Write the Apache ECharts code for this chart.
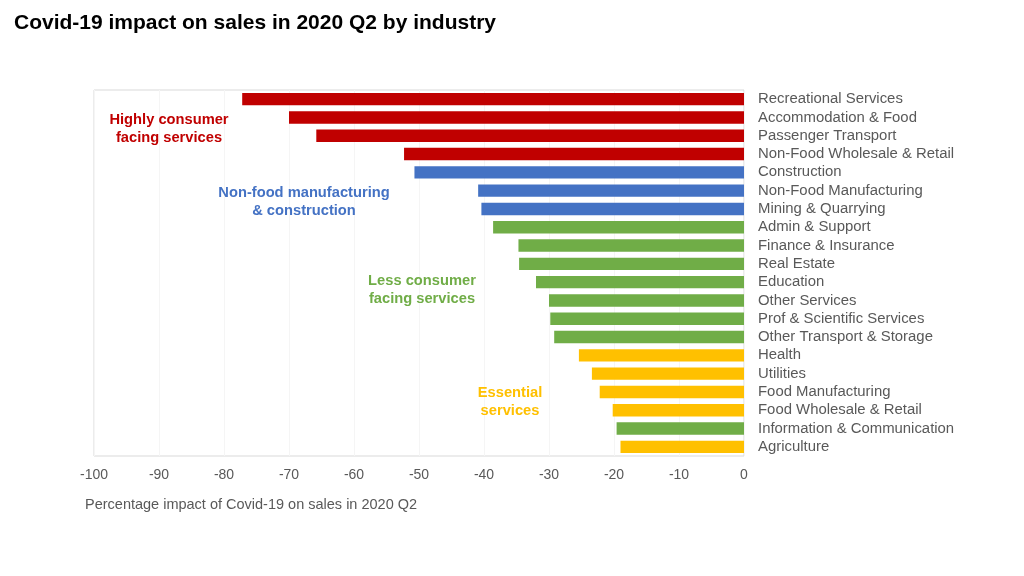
<!DOCTYPE html>
<html>
<head>
<meta charset="utf-8">
<title>Covid-19 impact on sales in 2020 Q2 by industry</title>
<script src="https://cdn.jsdelivr.net/npm/echarts@6/dist/echarts.min.js"></script>
<style>
  html, body { margin: 0; padding: 0; background: #fff; }
  #chart { width: 1024px; height: 576px; }
</style>
</head>
<body>
<div id="chart"></div>
<script>
// categories, top to bottom
const industries = [
  'Recreational Services', 'Accommodation & Food', 'Passenger Transport',
  'Non-Food Wholesale & Retail', 'Construction', 'Non-Food Manufacturing',
  'Mining & Quarrying', 'Admin & Support', 'Finance & Insurance', 'Real Estate',
  'Education', 'Other Services', 'Prof & Scientific Services',
  'Other Transport & Storage', 'Health', 'Utilities', 'Food Manufacturing',
  'Food Wholesale & Retail', 'Information & Communication', 'Agriculture'
]
// % impact on sales
const impact = [
  -77.2, -70.0, -65.8, -52.3, -50.7, -40.9, -40.4, -38.6, -34.7, -34.6,
  -32.0, -30.0, -29.8, -29.2, -25.4, -23.4, -22.2, -20.2, -19.6, -19.0
]
// group of each industry
const groups = [
  'high', 'high', 'high', 'high', 'mfg', 'mfg', 'mfg', 'less', 'less', 'less',
  'less', 'less', 'less', 'less', 'ess', 'ess', 'ess', 'ess', 'less', 'ess'
]
const groupColors = { high: '#C00000', mfg: '#4472C4', less: '#70AD47', ess: '#FFC000' }

const xTicks = { min: -100, max: 0, step: 10 }

const chart = echarts.init(document.getElementById('chart'))

const font = 'Liberation Sans, Arial, sans-serif'

// group labels drawn inside the plot area (x = centre of the text block)
function note (text, x, y, color) {
  return {
    type: 'text',
    x: x,
    y: y,
    z: 100,
    style: {
      text: text,
      fill: color,
      font: 'bold 14.7px ' + font,
      align: 'center',
      verticalAlign: 'top',
      lineHeight: 18
    }
  }
}

const option = {
  animation: false,
  textStyle: { fontFamily: font },
  title: {
    text: 'Covid-19 impact on sales in 2020 Q2 by industry',
    left: 14,
    top: 13,
    padding: 0,
    textStyle: { fontSize: 21, fontWeight: 'bold', color: '#000', fontFamily: font }
  },
  grid: {
    left: 94,
    right: 280,
    top: 90,
    bottom: 120,
    show: true,
    borderColor: '#d9d9d9',
    borderWidth: 1
  },
  xAxis: {
    type: 'value',
    min: xTicks.min,
    max: xTicks.max,
    interval: xTicks.step,
    axisLine: { show: false },
    axisTick: { show: false },
    axisLabel: { color: '#595959', fontSize: 14, margin: 12 },
    splitLine: { show: true, lineStyle: { color: '#f5f5f5' } },
    name: 'Percentage impact of Covid-19 on sales in 2020 Q2',
    nameLocation: 'start',
    nameGap: 0,
    nameTextStyle: {
      color: '#595959',
      fontSize: 14.5,
      align: 'left',
      verticalAlign: 'top',
      padding: [41, 0, 0, -9]
    }
  },
  yAxis: {
    type: 'category',
    data: industries,
    inverse: true,
    position: 'right',
    axisLine: { show: false },
    axisTick: { show: false },
    axisLabel: { color: '#595959', fontSize: 14.9, margin: 14, interval: 0 },
    splitLine: { show: false }
  },
  series: [{
    type: 'bar',
    data: impact.map((v, i) => ({
      value: v,
      itemStyle: { color: groupColors[groups[i]] }
    })),
    barCategoryGap: '32%'
  }],
  graphic: [
    note('Highly consumer\nfacing services', 169, 111, groupColors.high),
    note('Non-food manufacturing\n& construction', 304, 184, groupColors.mfg),
    note('Less consumer\nfacing services', 422, 272, groupColors.less),
    note('Essential\nservices', 510, 384, groupColors.ess)
  ]
}

chart.setOption(option)
</script>
</body>
</html>
